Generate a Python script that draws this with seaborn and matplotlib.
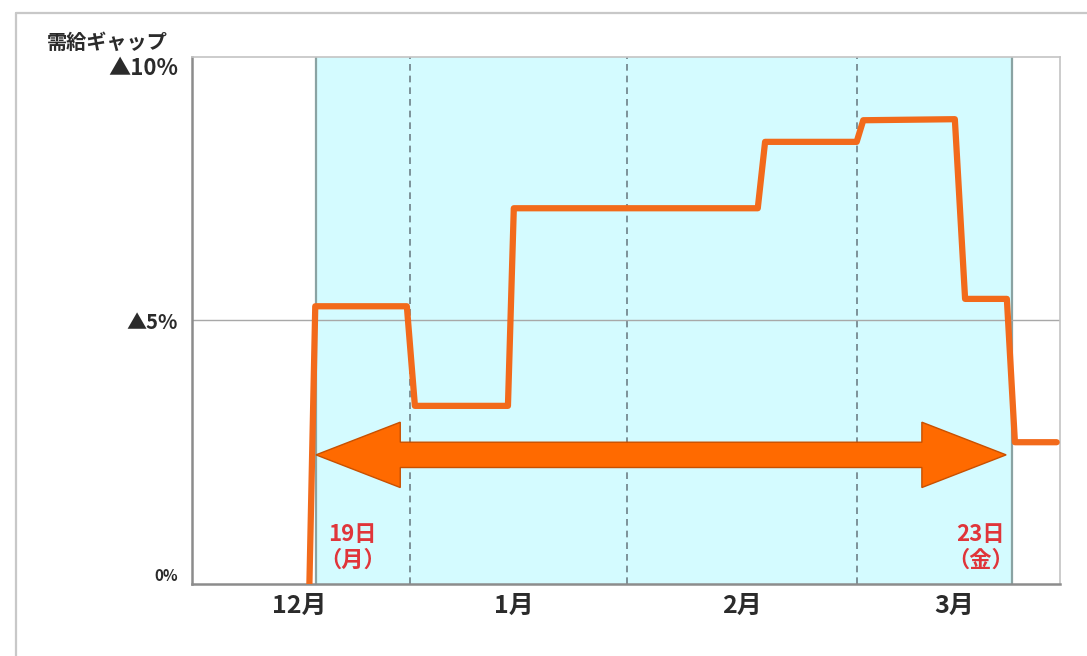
import numpy as np
import pandas as pd
import matplotlib
matplotlib.use("Agg")
import matplotlib.pyplot as plt
from matplotlib.lines import Line2D
import seaborn as sns

sns.set_theme(style="white")
plt.rcParams["font.family"] = ["Noto Sans CJK JP", "DejaVu Sans"]

# x axis: day number counted from 1 Dec (19 Dec = 18, 23 Mar = 113)
gap_day = [17.1, 17.9, 30.4, 31.5, 44.2, 45.0, 78.3, 79.3, 91.8, 92.7,
           105.2, 106.6, 112.3, 113.4, 119.1]
gap_pct = [0.0, 5.27, 5.27, 3.38, 3.38, 7.13, 7.13, 8.39, 8.39, 8.80,
           8.82, 5.41, 5.41, 2.69, 2.69]

period_start = 18.0    # 19日（月）
period_end = 113.0     # 23日（金）
month_edges = [30.8, 60.5, 91.8]
month_pos = [15.7, 45.0, 76.1, 105.1]
month_labels = ["12月", "1月", "2月", "3月"]
y_ticks = [0, 5, 10]
y_labels = ["0%", "▲5%", "▲10%"]

df = pd.DataFrame({"day": gap_day, "gap": gap_pct})

fig = plt.figure(figsize=(10.87, 6.56), dpi=100)
ax = fig.add_axes([0.1766, 0.1098, 0.7986, 0.8033])
xmin, xmax = 1.07, 119.56
ax.set_xlim(xmin, xmax)
ax.set_ylim(0, 10)

# request period shading and its borders
ax.axvspan(period_start, period_end, color="#D4FBFF", zorder=0, lw=0)
for xv in (period_start, period_end):
    ax.axvline(xv, color="#8AA3A3", lw=1.6, zorder=1)
for xv in month_edges:
    ax.axvline(xv, color="#6E8088", lw=1.2, ls=(0, (4, 3)), zorder=1)
ax.axhline(5, color="#A8A8A8", lw=1.0, zorder=1)

# double-headed arrow spanning the period
arrow_y = 2.45
body_half = 0.24
head_half = 0.62
head_len = 11.5
a0 = period_start
a1 = period_end - 0.8
arrow_x = [a0, a0 + head_len, a0 + head_len, a1 - head_len, a1 - head_len, a1,
           a1 - head_len, a1 - head_len, a0 + head_len, a0 + head_len]
arrow_yv = [arrow_y, arrow_y + head_half, arrow_y + body_half, arrow_y + body_half,
            arrow_y + head_half, arrow_y, arrow_y - head_half, arrow_y - body_half,
            arrow_y - body_half, arrow_y - head_half]
ax.fill(arrow_x, arrow_yv, facecolor="#FF6A00", edgecolor="#C85000", lw=1.0, zorder=3)

# supply-demand gap line
sns.lineplot(data=df, x="day", y="gap", ax=ax, sort=False, estimator=None,
             color="#F26A1B", lw=4.5, zorder=4)
ax.set_xlabel("")
ax.set_ylabel("")

ax.set_xticks(month_pos)
ax.set_xticklabels(month_labels, fontsize=18, fontweight="bold", color="#2B2B2B")
ax.set_yticks(y_ticks)
ax.set_yticklabels(y_labels, fontweight="bold", color="#2B2B2B")
ax.tick_params(axis="both", length=0)
ax.tick_params(axis="x", pad=7)
ax.tick_params(axis="y", pad=10)
ylab = ax.get_yticklabels()
ylab[0].set_fontsize(11)
ylab[0].set_verticalalignment("bottom")
ylab[1].set_fontsize(14.5)
ylab[2].set_fontsize(16)
ylab[2].set_verticalalignment("top")

for side in ("left", "bottom"):
    ax.spines[side].set_color("#8C8C8C")
    ax.spines[side].set_linewidth(1.8)
for side in ("top", "right"):
    ax.spines[side].set_color("#C4C4C4")
    ax.spines[side].set_linewidth(1.2)

ax.text(period_start + 5.0, 0.70, "19日\n（月）", color="#E0353A", fontsize=16,
        fontweight="bold", ha="center", va="center", linespacing=1.15, zorder=5)
ax.text(period_end - 4.3, 0.70, "23日\n（金）", color="#E0353A", fontsize=16,
        fontweight="bold", ha="center", va="center", linespacing=1.15, zorder=5)

fig.text(47 / 1087, 1 - 42 / 656, "需給ギャップ", fontsize=14.5, fontweight="bold",
         color="#2B2B2B", ha="left", va="center")

# outer frame
fig.add_artist(Line2D([16 / 1087, 16 / 1087], [0, 1 - 13 / 656],
                      transform=fig.transFigure, color="#C8C8C8", lw=1.6))
fig.add_artist(Line2D([16 / 1087, 1], [1 - 13 / 656, 1 - 13 / 656],
                      transform=fig.transFigure, color="#C8C8C8", lw=1.6))

fig.savefig("out.png", dpi=100)
